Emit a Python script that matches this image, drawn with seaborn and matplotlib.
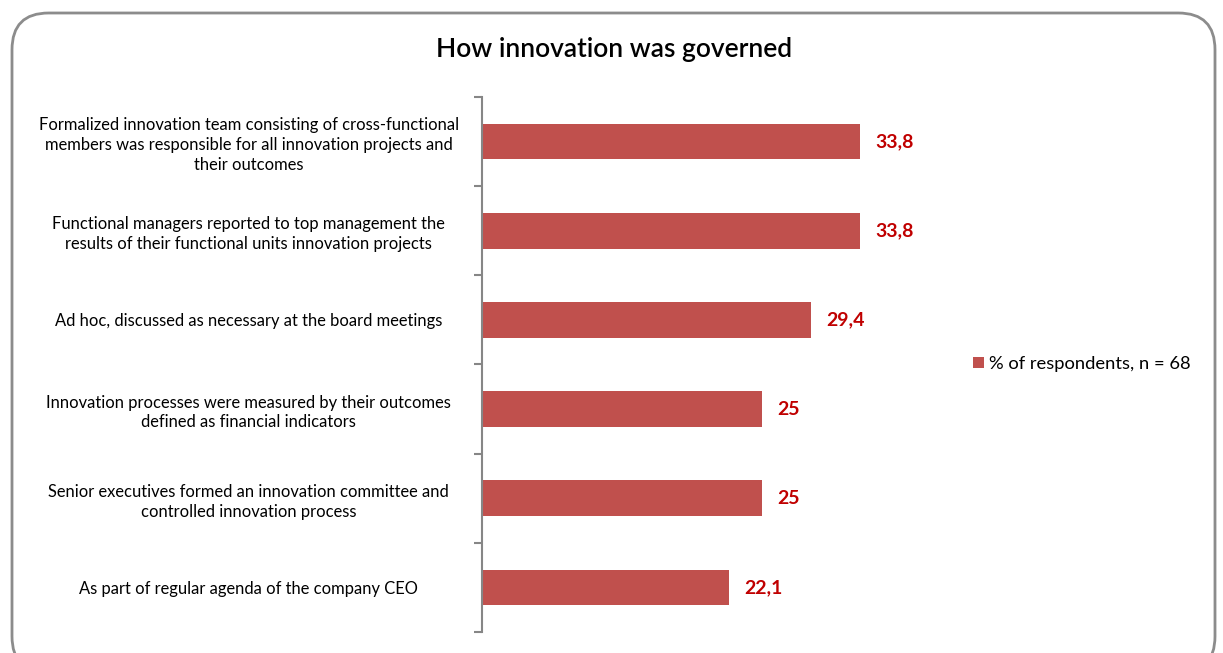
import matplotlib
matplotlib.use("Agg")
import matplotlib.pyplot as plt
from matplotlib.patches import FancyBboxPatch, Patch
from matplotlib.ticker import FixedLocator
import seaborn as sns
import pandas as pd

categories = [
    "Formalized innovation team consisting of cross-functional\nmembers was responsible for all innovation projects and\ntheir outcomes",
    "Functional managers reported to top management the\nresults of their functional units innovation projects",
    "Ad hoc, discussed as necessary at the board meetings",
    "Innovation processes were measured by their outcomes\ndefined as financial indicators",
    "Senior executives formed an innovation committee and\ncontrolled innovation process",
    "As part of regular agenda of the company CEO",
]
values = [33.8, 33.8, 29.4, 25, 25, 22.1]
value_labels = ["33,8", "33,8", "29,4", "25", "25", "22,1"]
series_name = "% of respondents, n = 68"
title = "How innovation was governed"

bar_color = "#C0504D"
label_color = "#C00000"
axis_gray = "#868686"

sns.set_theme(style="white")
plt.rcParams["font.family"] = ["Lato", "DejaVu Sans"]

df = pd.DataFrame({"category": categories, "value": values})

fig = plt.figure(figsize=(12.23, 6.53), dpi=100)
fig.patch.set_facecolor("white")

# rounded frame around the chart area
frame = FancyBboxPatch((12 / 1223, -20 / 653), 1203 / 1223, 660 / 653,
                       boxstyle="round,pad=0,rounding_size=0.03",
                       transform=fig.transFigure, facecolor="none",
                       edgecolor="#8C8C8C", linewidth=2, mutation_aspect=1223 / 653,
                       zorder=-1)
fig.patches.append(frame)

ax = fig.add_axes([482 / 1223, 1 - 632 / 653, (36 * 11.18) / 1223, (632 - 97) / 653])
ax.set_facecolor("none")

sns.barplot(data=df, x="value", y="category", color=bar_color, width=0.4,
            saturation=1, linewidth=0, ax=ax)

ax.set_xlim(0, 36)
ax.set_ylim(len(categories) - 0.5, -0.5)
ax.set_xlabel("")
ax.set_ylabel("")
ax.set_xticks([])

for s in ["top", "right", "bottom"]:
    ax.spines[s].set_visible(False)
ax.spines["left"].set_color(axis_gray)
ax.spines["left"].set_linewidth(1.5)

# category labels centred in the space left of the axis
ax.tick_params(axis="y", which="major", length=0, pad=168, labelsize=11.9,
               labelcolor="black")
for lbl in ax.get_yticklabels():
    lbl.set_horizontalalignment("center")
    lbl.set_multialignment("center")
    lbl.set_linespacing(1.3)

ax.yaxis.set_minor_locator(FixedLocator([i - 0.5 for i in range(len(categories) + 1)]))
ax.tick_params(axis="y", which="minor", left=True, length=6, width=1.5, color=axis_gray)

for i, (v, t) in enumerate(zip(values, value_labels)):
    ax.text(v + 1.4, i, t, va="center", ha="left", color=label_color,
            fontsize=14, fontweight="bold")

fig.text(614 / 1223, 1 - 50 / 653, title, ha="center", va="center",
         fontsize=19, fontweight="semibold", color="black")

handles = [Patch(facecolor=bar_color, edgecolor="none", label=series_name)]
fig.legend(handles=handles, loc="center left", bbox_to_anchor=(966 / 1223, 1 - 364 / 653),
           frameon=False, fontsize=13.2, handlelength=0.6, handleheight=0.6,
           handletextpad=0.25, borderaxespad=0, labelcolor="black")

fig.savefig("out.png", dpi=100, facecolor="white")
